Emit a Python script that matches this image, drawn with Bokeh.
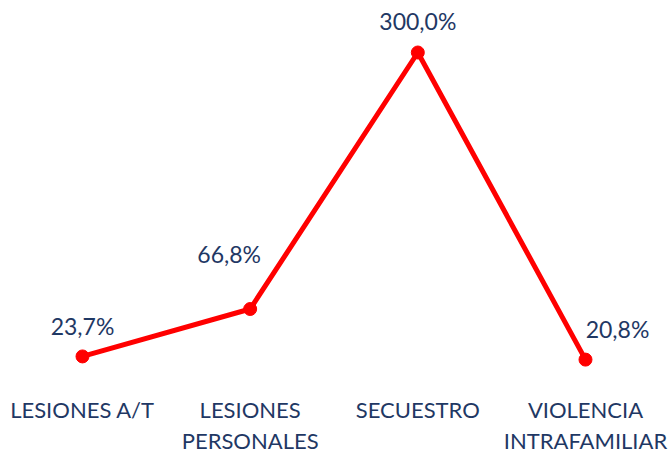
from bokeh.plotting import figure
from bokeh.models import ColumnDataSource, Range1d, FixedTicker
from bokeh.embed import file_html
from bokeh.resources import INLINE
from bokeh.core.properties import value

categories = ["LESIONES A/T", "LESIONES\nPERSONALES", "SECUESTRO", "VIOLENCIA\nINTRAFAMILIAR"]
values = [23.7, 66.8, 300.0, 20.8]
value_labels = ["23,7%", "66,8%", "300,0%", "20,8%"]

# label placement (screen offsets, px) – styling only
label_dx = [0, -21, 0, 32]
label_dy = [-30, -55, -31, -31]

xs = list(range(len(categories)))

NAVY = "#1F3864"
RED = "#FF0000"
FONT = "Lato"

p = figure(frame_width=670, frame_height=387, output_backend="svg",
           toolbar_location=None, min_border=0, min_border_bottom=4,
           x_range=Range1d(-0.489, 3.507), y_range=Range1d(-4.55, 347.27))
p.outline_line_color = None
p.grid.visible = False
p.yaxis.visible = False
p.background_fill_color = "white"
p.border_fill_color = "white"

ax = p.xaxis[0]
ax.ticker = FixedTicker(ticks=xs)
ax.major_label_overrides = {i: c for i, c in enumerate(categories)}
ax.axis_line_color = None
ax.major_tick_line_color = None
ax.minor_tick_line_color = None
ax.major_label_text_font = FONT
ax.major_label_text_font_size = "22px"
ax.major_label_text_line_height = 1.15
ax.major_label_text_color = NAVY
ax.major_label_standoff = 2

src = ColumnDataSource(dict(x=xs, y=values, lab=value_labels, dx=label_dx, dy=label_dy))
p.line("x", "y", source=src, line_color=RED, line_width=5)
p.scatter("x", "y", source=src, size=13, fill_color=RED, line_color=RED)
p.text("x", "y", text="lab", source=src, x_offset="dx", y_offset="dy",
       text_align="center", text_baseline="middle",
       text_font=value(FONT), text_font_size="23px", text_color=NAVY)

open("out.html", "w").write(file_html(p, INLINE))
